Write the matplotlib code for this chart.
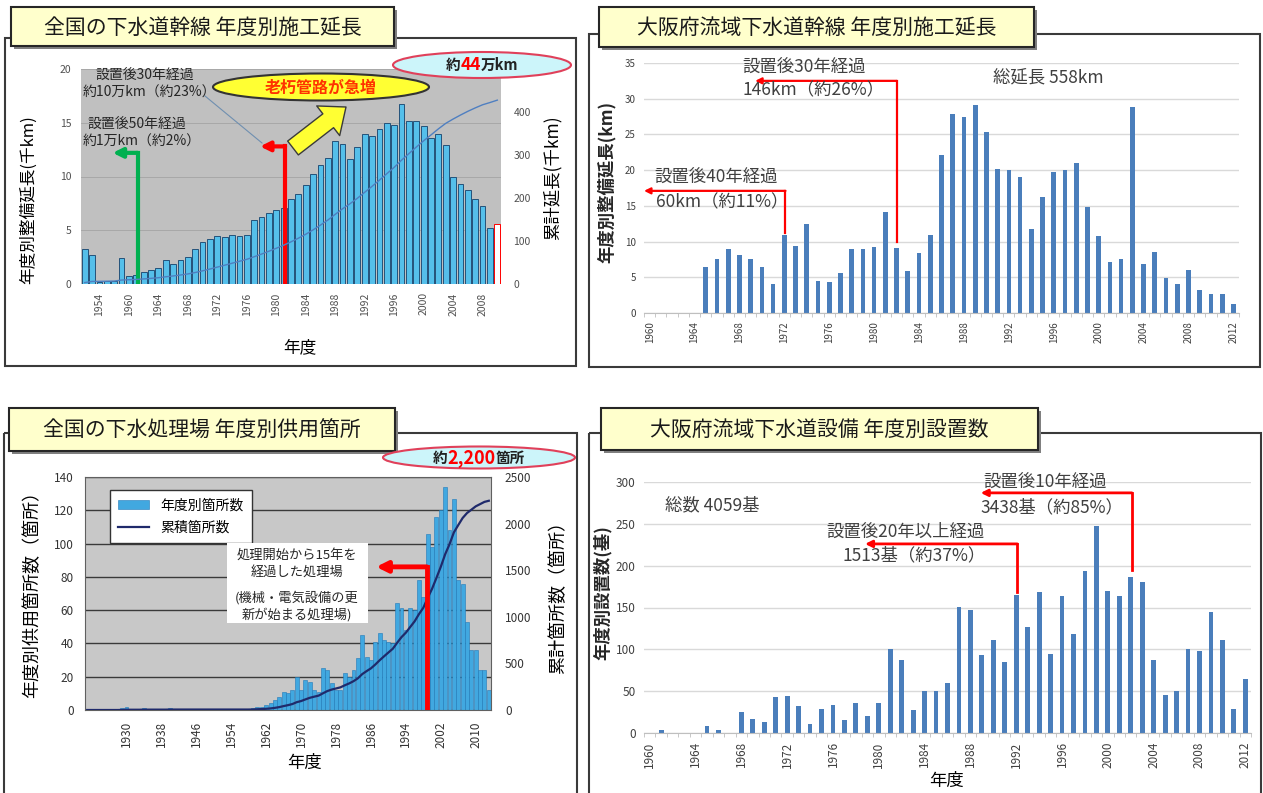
import matplotlib.pyplot as plt
import numpy as np
from matplotlib.patches import Rectangle, Ellipse

plt.rcParams['font.family'] = ['Noto Sans CJK JP', 'DejaVu Sans']

W, H = 1263, 793

# ---- data ----
# top left: national trunk sewers, yearly length (thousand km)
years1 = np.arange(1954, 2011)
length1 = [3.3, 2.7, 0.2, 0.3, 0.3, 2.4, 0.7, 0.8, 1.1, 1.3,
           1.5, 2.2, 1.9, 2.2, 2.5, 3.3, 3.9, 4.2, 4.5, 4.4,
           4.6, 4.5, 4.6, 6.0, 6.2, 6.6, 6.9, 7.1, 7.9, 8.4,
           9.2, 10.2, 11.1, 11.7, 13.3, 13.0, 11.6, 12.7, 14.0, 13.8,
           14.4, 15.0, 14.8, 16.7, 15.2, 15.2, 14.7, 13.6, 14.0, 12.9,
           10.0, 9.3, 8.7, 7.9, 7.3, 5.2, 5.6]
xt1_labels = ['1954', '1960', '1964', '1968', '1972', '1976', '1980',
              '1984', '1988', '1992', '1996', '2000', '2004', '2008']

# top right: Osaka trunk sewers, yearly length (km)
years2 = np.arange(1960, 2013)
length2 = [0, 0, 0, 0, 0,
           6.4, 7.6, 8.9, 8.1, 7.6, 6.4, 4.1, 10.9, 9.4, 12.4,
           4.5, 4.3, 5.6, 8.9, 8.9, 9.3, 14.2, 9.1, 5.9, 8.4,
           10.9, 22.1, 27.9, 27.5, 29.1, 25.3, 20.2, 20.0, 19.0, 11.7,
           16.2, 19.8, 20.0, 21.0, 14.8, 10.8, 7.1, 7.5, 28.9, 6.8,
           8.6, 4.9, 4.1, 6.0, 3.2, 2.7, 2.6, 1.3]

# bottom left: national treatment plants put in service per year
years3 = np.arange(1921, 2014)
plants3 = [0, 0, 0, 0, 0, 0, 0, 0, 1, 2,
           0, 0, 0, 1, 0, 0, 0, 0, 0, 1,
           0, 0, 0, 0, 0, 0, 0, 0, 0, 0,
           0, 0, 0, 0, 0, 0, 0, 0, 1, 2,
           2, 3, 4, 6, 8, 11, 10, 12, 20, 12,
           18, 17, 12, 11, 25, 24, 16, 12, 12, 22,
           20, 24, 31, 45, 32, 30, 41, 46, 42, 41,
           40, 64, 61, 48, 61, 60, 78, 68, 106, 98,
           116, 120, 134, 108, 127, 78, 76, 53, 36, 36,
           24, 24, 12]

# bottom right: Osaka sewer facilities installed per year
years4 = np.arange(1960, 2013)
units4 = [0, 3, 0, 0, 0, 8, 4, 0, 25, 17,
          13, 43, 44, 32, 11, 29, 33, 15, 36, 20,
          36, 100, 87, 27, 50, 50, 60, 151, 147, 93,
          111, 85, 165, 127, 168, 95, 164, 118, 194, 247,
          170, 164, 187, 181, 87, 45, 50, 100, 98, 145,
          111, 29, 64]

titles = ['全国の下水道幹線 年度別施工延長', '大阪府流域下水道幹線 年度別施工延長',
          '全国の下水処理場 年度別供用箇所', '大阪府流域下水道設備 年度別設置数']

RED = '#FF0000'
OSAKA_BLUE = '#4A7EBB'

fig = plt.figure(figsize=(W / 100, H / 100), dpi=100)


def rect(l, t, r, b):
    # pixel box (left, top, right, bottom) -> figure fraction
    return [l / W, 1 - b / H, (r - l) / W, (b - t) / H]


def l_arrow(ax, x0, y0, y1, x1, color, lw, ms, trans=None):
    # vertical line up from (x0, y0), then an arrow left to x1
    trans = trans or ax.transData
    ax.plot([x0, x0], [y0, y1], color=color, lw=lw, solid_capstyle='projecting',
            transform=trans, zorder=6)
    ax.annotate('', xy=(x1, y1), xytext=(x0, y1), xycoords=trans, textcoords=trans,
                arrowprops=dict(arrowstyle='-|>', color=color, lw=lw,
                                mutation_scale=ms, shrinkA=0, shrinkB=0), zorder=6)


# background: frames and title boxes
bg = fig.add_axes([0, 0, 1, 1], zorder=-5)
bg.set_xlim(0, W)
bg.set_ylim(H, 0)
bg.axis('off')
for l, t, r, b in [(5, 38, 576, 366), (589, 34, 1260, 367),
                   (4, 433, 577, 800), (589, 433, 1261, 800)]:
    bg.add_patch(Rectangle((l, t), r - l, b - t, fill=False, ec='#3a3a3a', lw=1.5))
for (l, t, r, b), s in zip([(11, 7, 394, 46), (599, 7, 1034, 47),
                            (9, 408, 395, 451), (601, 408, 1038, 450)], titles):
    bg.add_patch(Rectangle((l + 3, t + 3), r - l, b - t, fc='#808080', ec='none'))
    bg.add_patch(Rectangle((l, t), r - l, b - t, fc='#FFFFCC', ec='#262626', lw=1.5))
    bg.text((l + r) / 2, (t + b) / 2 + 1, s, ha='center', va='center',
            fontsize=15, color='#1a1a1a')

# ---------------- top left ----------------
ax1 = fig.add_axes(rect(81, 69, 501, 284))
ax1.set_facecolor('#C0C0C0')
fc1 = ['#55BFEA'] * (len(years1) - 1) + ['white']
ec1 = ['#24527A'] * (len(years1) - 1) + [RED]
ax1.bar(years1, length1, width=0.78, color=fc1, edgecolor=ec1, lw=0.7, zorder=2)
ax1.set_xlim(1953.5, 2010.5)
ax1.set_ylim(0, 20)
ax1.set_yticks([0, 5, 10, 15, 20])
ax1.yaxis.grid(True, color='#A8A8A8', lw=0.7)
ax1.set_axisbelow(True)
ax1.set_xticks(years1[2::4])
ax1.set_xticklabels(xt1_labels, rotation=90)
ax1.tick_params(length=0, labelsize=7.5, colors='#505050')
ax1.tick_params(axis='y', pad=7)
ax1.tick_params(axis='x', pad=6)
for s in ax1.spines.values():
    s.set_visible(False)
l_arrow(ax1, 1961.2, 0, 12.2, 1957.8, '#00B050', 3, 14)
l_arrow(ax1, 1981.2, 0, 12.8, 1977.8, RED, 3, 14)

ax1r = ax1.twinx()
ax1r.plot(years1, np.cumsum(length1), color='#4F7FC0', lw=1)
ax1r.set_ylim(0, 500)
ax1r.set_yticks(np.arange(0, 401, 100))   # the 500 label sits under the call-out
ax1r.tick_params(length=0, labelsize=7.5, colors='#505050', pad=9)
for s in ax1r.spines.values():
    s.set_visible(False)

# ---------------- top right ----------------
ax2 = fig.add_axes(rect(644, 63, 1239, 313))
ax2.bar(years2, length2, width=0.42, color=OSAKA_BLUE, zorder=2)
ax2.set_xlim(1959.5, 2012.5)
ax2.set_ylim(0, 35)
ax2.set_yticks(np.arange(0, 36, 5))
ax2.yaxis.grid(True, color='#D9D9D9', lw=1)
ax2.set_axisbelow(True)
ax2.set_xticks(years2[::4])
ax2.set_xticklabels([str(y) for y in years2[::4]], rotation=90)
ax2.set_xticks(np.arange(1959.5, 2013, 1), minor=True)
ax2.tick_params(axis='both', length=0, labelsize=7, colors='#404040', pad=6)
ax2.tick_params(axis='x', which='minor', length=3, color='#BFBFBF')
for k in ['top', 'right', 'left']:
    ax2.spines[k].set_visible(False)
ax2.spines['bottom'].set_color('#BFBFBF')
l_arrow(ax2, 1982.0, 10.0, 32.5, 1969.4, RED, 1.6, 9)
l_arrow(ax2, 1972.1, 11.2, 17.1, 1959.5, RED, 1.6, 9)

# ---------------- bottom left ----------------
ax3 = fig.add_axes(rect(85, 477, 491, 710))
ax3.set_facecolor('#C8C8C8')
b3 = ax3.bar(years3, plants3, width=0.9, color='#41A8E0', edgecolor='#2079B8',
             lw=0.4, zorder=2)
ax3.set_xlim(1920.5, 2013.5)
ax3.set_ylim(0, 140)
ax3.set_yticks(np.arange(0, 141, 20))
ax3.yaxis.grid(True, color='#3A3A3A', lw=1)
ax3.set_axisbelow(True)
ax3.set_xticks(np.arange(1930, 2011, 8))
ax3.set_xticklabels([str(y) for y in range(1930, 2011, 8)], rotation=90)
ax3.tick_params(length=0, labelsize=8.5, colors='#333333', pad=8)
for s in ax3.spines.values():
    s.set_color('#606060')
    s.set_linewidth(0.8)

ax3r = ax3.twinx()
l3, = ax3r.plot(years3, np.cumsum(plants3), color='#1F2A6B', lw=1.6)
l_arrow(ax3r, 1998.8, 0, 86, 1987.2, RED, 3.5, 16, trans=ax3.transData)
ax3r.set_ylim(0, 2500)
ax3r.set_yticks(np.arange(0, 2501, 500))
ax3r.tick_params(length=0, labelsize=8.5, colors='#333333', pad=10)
for s in ax3r.spines.values():
    s.set_visible(False)
leg = ax3r.legend([b3, l3], ['年度別箇所数', '累積箇所数'], loc='upper left',
                  bbox_to_anchor=(103 / W, 1 - 483 / H), bbox_transform=fig.transFigure,
                  fancybox=False, edgecolor='#333333', framealpha=1, fontsize=10,
                  borderpad=0.6, handlelength=2.2, labelspacing=0.6)
leg.get_frame().set_linewidth(1)

# ---------------- bottom right ----------------
ax4 = fig.add_axes(rect(644, 482, 1251, 733))
ax4.bar(years4, units4, width=0.42, color=OSAKA_BLUE, zorder=2)
ax4.set_xlim(1959.5, 2012.5)
ax4.set_ylim(0, 300)
ax4.set_yticks(np.arange(0, 301, 50))
ax4.yaxis.grid(True, color='#D9D9D9', lw=1)
ax4.set_axisbelow(True)
ax4.set_xticks(years4[::4])
ax4.set_xticklabels([str(y) for y in years4[::4]], rotation=90)
ax4.set_xticks(np.arange(1959.5, 2013, 1), minor=True)
ax4.tick_params(axis='both', length=0, labelsize=8.5, colors='#404040', pad=6)
ax4.tick_params(axis='x', which='minor', length=3, color='#BFBFBF')
for k in ['top', 'right', 'left']:
    ax4.spines[k].set_visible(False)
ax4.spines['bottom'].set_color('#BFBFBF')
l_arrow(ax4, 2002.1, 195, 287, 1988.9, RED, 2, 10)
l_arrow(ax4, 1992.1, 169, 226, 1978.8, RED, 2, 10)

# ---------------- overlay: labels and call-outs (pixel coords) ----------------
ov = fig.add_axes([0, 0, 1, 1], zorder=10)
ov.set_xlim(0, W)
ov.set_ylim(H, 0)
ov.axis('off')
ov.patch.set_alpha(0)
renderer = fig.canvas.get_renderer()


def chain(xc, y, parts):
    # mixed-colour text centred on xc
    texts = [ov.text(0, y, s, color=c, fontsize=fs, fontweight='bold', va='center')
             for s, c, fs in parts]
    widths = [t.get_window_extent(renderer).width for t in texts]
    x = xc - sum(widths) / 2
    for t, w in zip(texts, widths):
        t.set_x(x)
        x += w


# top left
ov.add_patch(Ellipse((482, 65), 178, 26, fc='#CCF5FA', ec='#E0405A', lw=1.5))
chain(482, 65, [('約', '#222222', 10.5), ('44', RED, 12.5), ('万km', '#222222', 10.5)])
ov.add_patch(Ellipse((321, 87), 216, 27, fc='#FFFF33', ec='#333333', lw=1.5))
ov.text(321, 88, '老朽管路が急増', color='#FF3300', fontweight='bold', fontsize=11.5,
        ha='center', va='center')
ov.annotate('', xy=(346, 107), xytext=(293, 148),
            arrowprops=dict(arrowstyle='simple,head_length=0.9,head_width=1.5,tail_width=0.7',
                            fc='#FFFF33', ec='#3a3a3a', lw=1, mutation_scale=18,
                            shrinkA=0, shrinkB=0))
ov.plot([205, 262], [96, 143], color='#6F8FB0', lw=0.8)
for x, y, s in [(96, 75, '設置後30年経過'), (83, 93, '約10万km（約23%）'),
                (87, 124, '設置後50年経過'), (83, 142, '約1万km（約2%）')]:
    ov.text(x, y, s, fontsize=10, va='center', color='#262626')
ov.text(28, 200, '年度別整備延長(千km)', rotation=90, ha='center', va='center', fontsize=12)
ov.text(552, 178, '累計延長(千km)', rotation=90, ha='center', va='center', fontsize=12.5)
ov.text(300, 348, '年度', ha='center', va='center', fontsize=12)

# top right
for x, y, s in [(742, 67, '設置後30年経過'), (742, 90, '146km（約26%）'),
                (654, 177, '設置後40年経過'), (656, 202, '60km（約11%）'),
                (993, 77, '総延長 558km')]:
    ov.text(x, y, s, fontsize=12.5, va='center', color='#404040')
ov.text(607, 182, '年度別整備延長(km)', rotation=90, ha='center', va='center',
        fontsize=12.5, fontweight='bold', color='#262626')

# bottom left
ov.add_patch(Ellipse((479, 457.5), 192, 22, fc='#CCF5FA', ec='#E0405A', lw=1.5))
chain(479, 458, [('約', '#222222', 10.5), ('2,200', RED, 13), ('箇所', '#222222', 10.5)])
ov.add_patch(Rectangle((227, 543), 141, 80, fc='white', ec='none'))
for y, s in [(555, '処理開始から15年を'), (572, '経過した処理場'),
             (598, '(機械・電気設備の更'), (615, '新が始まる処理場)')]:
    ov.text(297, y, s, ha='center', va='center', fontsize=9.5, color='#262626')
ov.text(32, 590, '年度別供用箇所数（箇所）', rotation=90, ha='center', va='center', fontsize=13)
ov.text(558, 593, '累計箇所数（箇所）', rotation=90, ha='center', va='center', fontsize=13)
ov.text(305, 763, '年度', ha='center', va='center', fontsize=12.5)

# bottom right
for x, y, s in [(665, 505, '総数 4059基'), (983, 482, '設置後10年経過'),
                (980, 507, '3438基（約85%）'), (826, 532, '設置後20年以上経過'),
                (843, 555, '1513基（約37%）')]:
    ov.text(x, y, s, fontsize=12.5, va='center', color='#404040')
ov.text(603, 593, '年度別設置数(基)', rotation=90, ha='center', va='center',
        fontsize=12.5, fontweight='bold', color='#262626')
ov.text(946, 781, '年度', ha='center', va='center', fontsize=12.5)

fig.savefig('out.png', dpi=100)
